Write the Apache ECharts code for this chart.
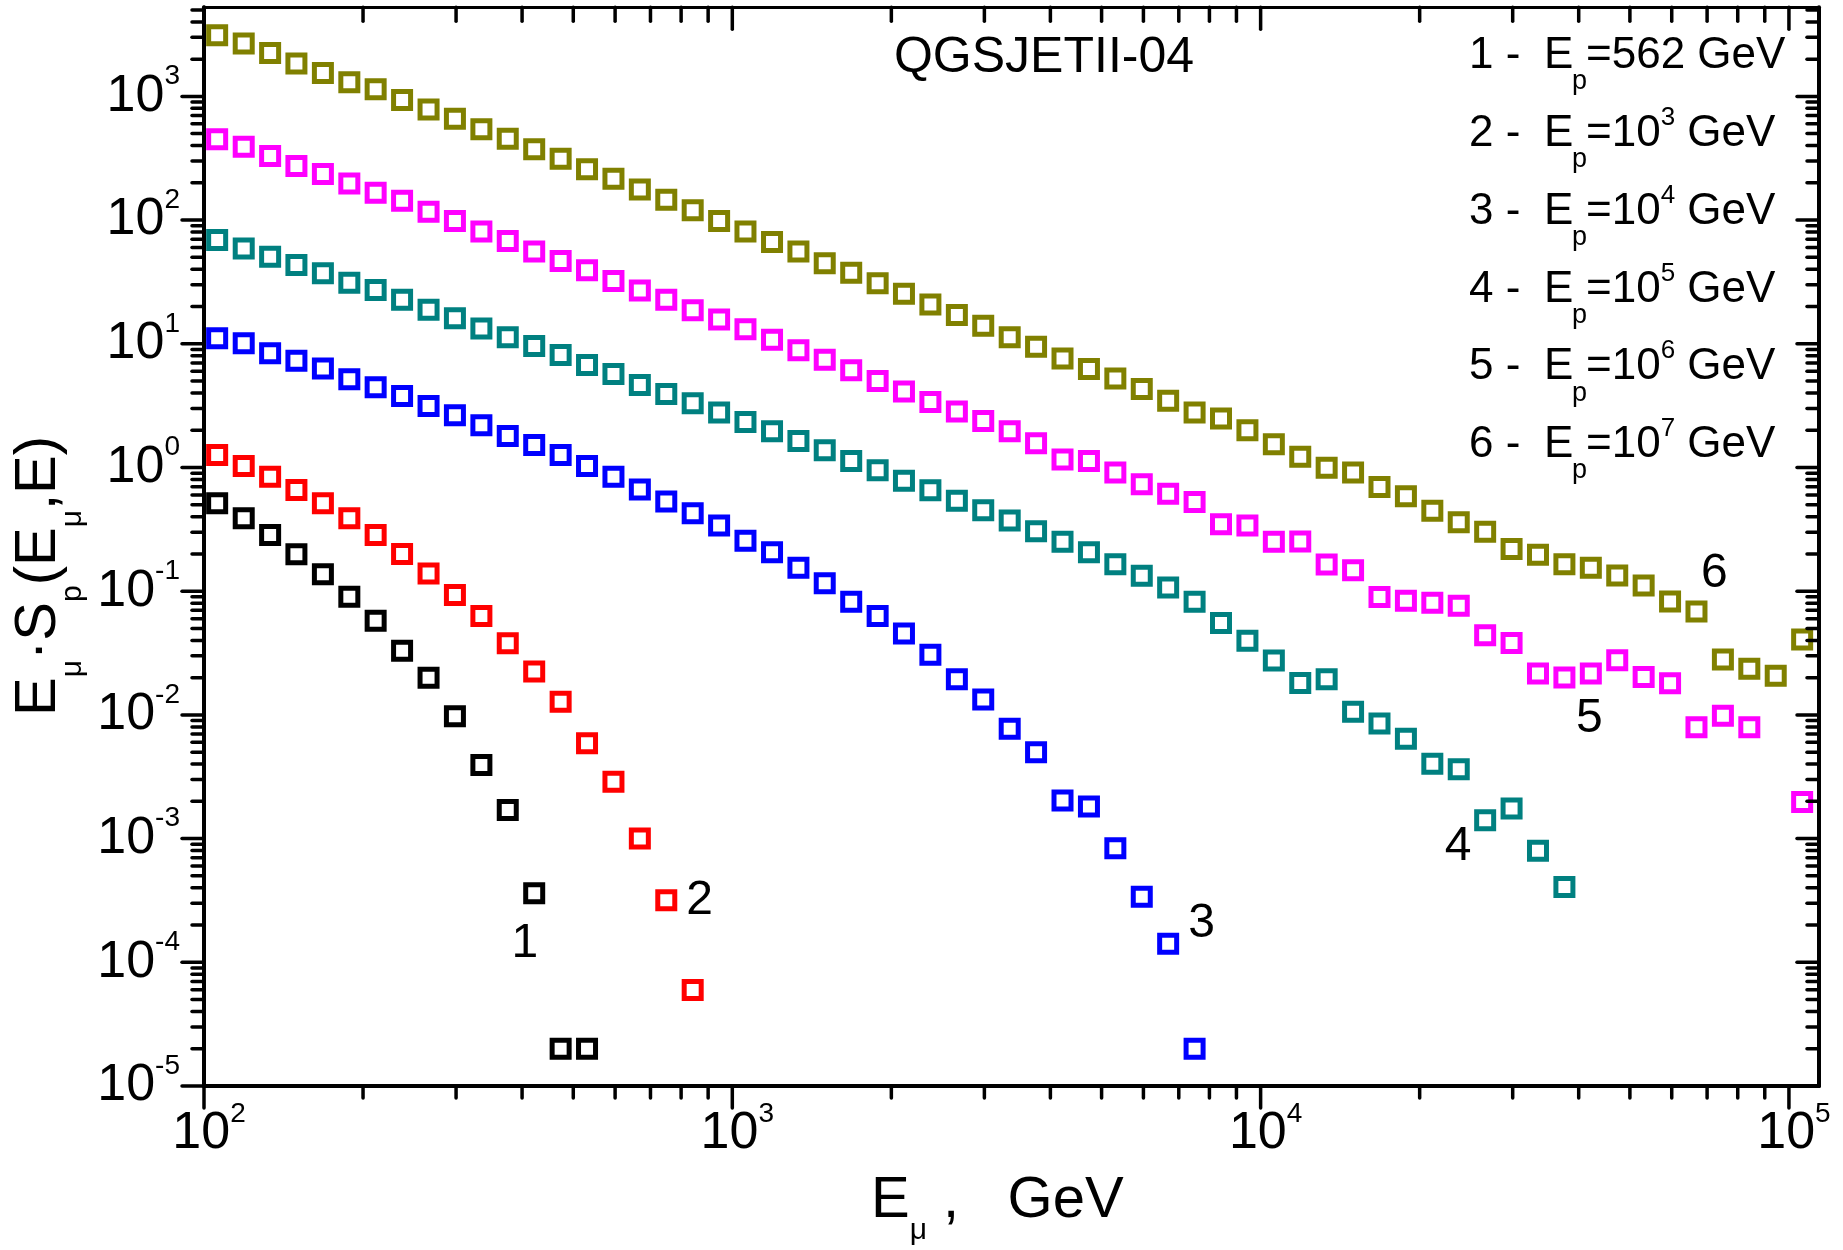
<!DOCTYPE html>
<html>
<head>
<meta charset="utf-8">
<script src="https://cdn.jsdelivr.net/npm/echarts@6/dist/echarts.min.js"></script>
<style>
  html, body { margin: 0; padding: 0; background: #ffffff; }
  #chart { width: 1843px; height: 1250px; }
</style>
</head>
<body>
<div id="chart"></div>
<script>
// Muon energy E_mu (GeV): bin centres, 20 bins per decade
const muonEnergy = [
  105.9, 118.9, 133.4, 149.6, 167.9, 188.4, 211.3, 237.1, 266.1, 298.5,
  335.0, 375.8, 421.7, 473.2, 530.9, 595.7, 668.3, 749.9, 841.4, 944.1,
  1059, 1189, 1334, 1496, 1679, 1884, 2113, 2371, 2661, 2985,
  3350, 3758, 4217, 4732, 5309, 5957, 6683, 7499, 8414, 9441,
  10593, 11885, 13335, 14962, 16788, 18837, 21135, 23714, 26607, 29854,
  33497, 37584, 42170, 47315, 53088, 59566, 66834, 74989, 84140, 94406,
  105925
];

// E_mu * S_p(E_mu, E) for each primary proton energy (null = empty bin)
const spectrumEp562 = [0.513, 0.388, 0.284, 0.199, 0.137, 0.0903, 0.0578, 0.0330, 0.0200, 0.00977,
  0.00394, 0.00170, 3.61e-4, 2.0e-5, 2.0e-5];
const spectrumEp1e3 = [1.26, 1.03, 0.843, 0.658, 0.513, 0.388, 0.284, 0.200, 0.139, 0.0931,
  0.0630, 0.0379, 0.0224, 0.0128, 0.00589, 0.00288, 0.00100, 3.18e-4, 5.96e-5];
const spectrumEp1e4 = [11.1, 10.1, 8.37, 7.29, 6.32, 5.16, 4.45, 3.78, 3.14, 2.65,
  2.20, 1.80, 1.52, 1.26, 1.03, 0.843, 0.665, 0.530, 0.426, 0.340,
  0.256, 0.206, 0.155, 0.116, 0.0820, 0.0631, 0.0454, 0.0306, 0.0194, 0.0133,
  0.00773, 0.00499, 0.00203, 0.00182, 8.34e-4, 3.39e-4, 1.41e-4, 2.0e-5];
const spectrumEp1e5 = [69.0, 59.0, 50.6, 43.3, 37.2, 31.2, 27.2, 22.7, 18.8, 16.1,
  13.3, 11.3, 9.59, 8.11, 6.74, 5.69, 4.65, 3.93, 3.30, 2.78,
  2.33, 1.96, 1.64, 1.38, 1.13, 0.951, 0.781, 0.656, 0.538, 0.452,
  0.372, 0.305, 0.251, 0.206, 0.165, 0.133, 0.107, 0.0820, 0.0553, 0.0398,
  0.0275, 0.0181, 0.0194, 0.0106, 0.00853, 0.00641, 0.00403, 0.00363, 0.00141, 0.00175,
  7.96e-4, 4.07e-4];
const spectrumEp1e6 = [450, 392, 330, 274, 236, 198, 166, 143, 117, 98.4,
  80.7, 67.8, 55.7, 46.8, 39.3, 32.2, 27.0, 22.7, 18.7, 15.7,
  13.1, 10.8, 8.85, 7.43, 6.11, 5.01, 4.12, 3.38, 2.84, 2.38,
  1.96, 1.57, 1.16, 1.13, 0.910, 0.731, 0.614, 0.527, 0.348, 0.340,
  0.251, 0.252, 0.164, 0.148, 0.0899, 0.0836, 0.0805, 0.0763, 0.0441, 0.0381,
  0.0216, 0.0201, 0.0216, 0.0277, 0.0202, 0.0180, 0.00794, 0.00984, 0.00794, null,
  0.00198];
const spectrumEp1e7 = [3120, 2670, 2240, 1845, 1549, 1300, 1140, 935, 785, 659,
  542, 455, 373, 313, 258, 216, 177, 146, 120, 98.4,
  80.7, 66.4, 55.7, 44.8, 37.6, 30.8, 25.4, 20.8, 17.1, 14.0,
  11.3, 9.46, 7.60, 6.24, 5.24, 4.31, 3.46, 2.78, 2.49, 2.00,
  1.54, 1.22, 0.993, 0.912, 0.695, 0.585, 0.447, 0.361, 0.302, 0.219,
  0.197, 0.165, 0.155, 0.134, 0.111, 0.0824, 0.0684, 0.0281, 0.0236, 0.0207,
  0.0407];

const curveSpectra = [spectrumEp562, spectrumEp1e3, spectrumEp1e4, spectrumEp1e5, spectrumEp1e6, spectrumEp1e7];
const curveColors = ['#000000', '#ff0000', '#0000ff', '#008080', '#ff00ff', '#808000'];

// Legend text: curve number and primary energy E_p
const legendIndex = ['1', '2', '3', '4', '5', '6'];
const energyBase = ['562', '10', '10', '10', '10', '10'];
const energyExp = ['', '3', '4', '5', '6', '7'];

// Curve number tags, placed in data coordinates (E_mu, value)
const curveTagText = ['1', '2', '3', '4', '5', '6'];
const curveTagAt = [[405, 1.4e-4], [867, 3.17e-4], [7730, 2.04e-4], [23640, 8.6e-4], [41900, 9.39e-3], [72240, 0.1377]];

// Axis ranges and decade ticks
const X_MIN = 100, X_MAX = 114000;
const Y_MIN = 1e-5, Y_MAX = 5250;
const xDecades = [100, 1000, 10000, 100000];
const yDecades = [1e-5, 1e-4, 1e-3, 1e-2, 1e-1, 1, 10, 100, 1000];
const minorSteps = [2, 3, 4, 5, 6, 7, 8, 9];

const SANS = '"Liberation Sans", Arial, sans-serif';
const NARROW = '"Liberation Sans Narrow", "Arial Narrow", "Liberation Sans", Arial, sans-serif';

function tickList(decades, lo, hi) {
  const out = [];
  decades.forEach(function (d) {
    if (d >= lo * 0.999999 && d <= hi) out.push([d, 1]);
    minorSteps.forEach(function (s) {
      const v = d * s;
      if (v > lo && v < hi) out.push([v, 0]);
    });
  });
  return out;
}

function powerLabel(v) {
  const l = Math.log10(v);
  const e = Math.round(l);
  if (Math.abs(l - e) > 1e-6) return '';
  return '{b|10}{s|' + e + '}';
}

const scatterSeries = curveSpectra.map(function (vals, i) {
  const pts = [];
  vals.forEach(function (v, k) { if (v !== null) pts.push([muonEnergy[k], v]); });
  return {
    type: 'scatter',
    name: legendIndex[i],
    data: pts,
    symbol: 'rect',
    symbolSize: 17,
    itemStyle: { color: 'rgba(0,0,0,0)', borderColor: curveColors[i], borderWidth: 5, opacity: 1 },
    z: 3
  };
});

const xTicks = tickList(xDecades, X_MIN, X_MAX).map(function (t) { return [t[0], Y_MIN, t[1]]; });
const yTicks = tickList(yDecades, Y_MIN, Y_MAX).map(function (t) { return [X_MIN, t[0], t[1]]; });

const xTickSeries = {
  type: 'custom',
  coordinateSystem: 'cartesian2d',
  clip: false, silent: true, z: 6,
  dimensions: ['x', 'y', 'major'],
  encode: { x: 0, y: 1 },
  data: xTicks,
  renderItem: function (params, api) {
    const cs = params.coordSys;
    const x = api.coord([api.value(0), Y_MIN])[0];
    const major = api.value(2) === 1;
    const bottom = cs.y + cs.height, top = cs.y;
    return {
      type: 'group',
      children: [
        { type: 'line', shape: { x1: x, y1: bottom, x2: x, y2: bottom + (major ? 22 : 12) },
          style: { stroke: '#000', lineWidth: 3.5, lineCap: 'round' } },
        { type: 'line', shape: { x1: x, y1: top, x2: x, y2: top + (major ? 22 : 14) },
          style: { stroke: '#000', lineWidth: 3.5, lineCap: 'round' } }
      ]
    };
  }
};

const yTickSeries = {
  type: 'custom',
  coordinateSystem: 'cartesian2d',
  clip: false, silent: true, z: 6,
  dimensions: ['x', 'y', 'major'],
  encode: { x: 0, y: 1 },
  data: yTicks,
  renderItem: function (params, api) {
    const cs = params.coordSys;
    const y = api.coord([X_MIN, api.value(1)])[1];
    const major = api.value(2) === 1;
    const left = cs.x, right = cs.x + cs.width;
    return {
      type: 'group',
      children: [
        { type: 'line', shape: { x1: left, y1: y, x2: left - (major ? 22 : 12), y2: y },
          style: { stroke: '#000', lineWidth: 3.5, lineCap: 'round' } },
        { type: 'line', shape: { x1: right, y1: y, x2: right - (major ? 22 : 12), y2: y },
          style: { stroke: '#000', lineWidth: 3.5, lineCap: 'round' } }
      ]
    };
  }
};

const curveTagSeries = {
  type: 'custom',
  coordinateSystem: 'cartesian2d',
  clip: false, silent: true, z: 7,
  data: curveTagAt,
  renderItem: function (params, api) {
    const p = api.coord([api.value(0), api.value(1)]);
    return {
      type: 'text', x: p[0], y: p[1],
      style: { text: curveTagText[params.dataIndex], fontSize: 48, fontFamily: SANS, fill: '#000',
               align: 'center', verticalAlign: 'middle' }
    };
  }
};

// Legend block (upper right) and annotations
const graphics = [];
graphics.push({
  type: 'text', x: 1044, y: 58,
  style: { text: 'QGSJETII-04', fontSize: 50, fontFamily: SANS, fill: '#000', align: 'center', verticalAlign: 'middle' }
});
legendIndex.forEach(function (idx, i) {
  const yc = 56 + 77.8 * i;
  graphics.push({ type: 'text', x: 1469, y: yc,
    style: { text: idx + ' -', fontSize: 44, fontFamily: SANS, fill: '#000', align: 'left', verticalAlign: 'middle' } });
  graphics.push({ type: 'text', x: 1544, y: yc,
    style: { text: 'E', fontSize: 44, fontFamily: SANS, fill: '#000', align: 'left', verticalAlign: 'middle' } });
  graphics.push({ type: 'text', x: 1572, y: yc + 26,
    style: { text: 'p', fontSize: 27, fontFamily: SANS, fill: '#000', align: 'left', verticalAlign: 'middle' } });
  const txt = energyExp[i]
    ? '{n|=' + energyBase[i] + '}{s|' + energyExp[i] + '}{n| GeV}'
    : '{n|=' + energyBase[i] + ' GeV}';
  graphics.push({ type: 'text', x: 1586, y: yc,
    style: { text: txt, fill: '#000', align: 'left', verticalAlign: 'middle',
      rich: {
        n: { fontSize: 44, lineHeight: 58, fontFamily: SANS, fill: '#000' },
        s: { fontSize: 26, lineHeight: 26, fontFamily: SANS, fill: '#000', verticalAlign: 'top' }
      } } });
});
// Axis titles
graphics.push({
  type: 'text', x: 871, y: 1201,
  style: { text: '{t|E}{u|\u03bc}{t| ,   GeV}', fill: '#000', align: 'left', verticalAlign: 'middle',
    rich: {
      t: { fontSize: 58, lineHeight: 90, fontFamily: SANS, fill: '#000' },
      u: { fontSize: 30, lineHeight: 30, fontFamily: SANS, fill: '#000', verticalAlign: 'bottom' }
    } }
});
graphics.push({
  type: 'text', x: 39, y: 576, rotation: Math.PI / 2,
  style: { text: '{t|E}{u|\u03bc}{t|\u00b7S}{u|p}{t|(E}{u|\u03bc}{t|,E)}', fill: '#000', align: 'center', verticalAlign: 'middle',
    rich: {
      t: { fontSize: 58, lineHeight: 98, fontFamily: SANS, fill: '#000' },
      u: { fontSize: 30, lineHeight: 30, fontFamily: SANS, fill: '#000', verticalAlign: 'bottom' }
    } }
});

const chart = echarts.init(document.getElementById('chart'), null, { renderer: 'canvas' });
chart.setOption({
  animation: false,
  backgroundColor: '#ffffff',
  grid: { left: 204, top: 7.3, width: 1615, height: 1078.7, containLabel: false, outerBoundsMode: 'none' },
  xAxis: [
    {
      type: 'log', logBase: 10, min: X_MIN, max: X_MAX, position: 'bottom',
      axisLine: { show: true, lineStyle: { color: '#000', width: 4 } },
      axisTick: { show: false }, splitLine: { show: false }, minorTick: { show: false },
      axisLabel: {
        show: true, margin: 14, formatter: powerLabel,
        rich: {
          b: { fontSize: 52, lineHeight: 68, fontFamily: NARROW, color: '#000', padding: [0, 0, 0, 10] },
          s: { fontSize: 28, lineHeight: 28, fontFamily: NARROW, color: '#000', verticalAlign: 'top' }
        }
      }
    },
    {
      type: 'log', logBase: 10, min: X_MIN, max: X_MAX, position: 'top',
      axisLine: { show: true, lineStyle: { color: '#000', width: 3 } },
      axisTick: { show: false }, axisLabel: { show: false }, splitLine: { show: false }
    }
  ],
  yAxis: [
    {
      type: 'log', logBase: 10, min: Y_MIN, max: Y_MAX, position: 'left', splitNumber: 10,
      axisLine: { show: true, lineStyle: { color: '#000', width: 4 } },
      axisTick: { show: false }, splitLine: { show: false }, minorTick: { show: false },
      axisLabel: {
        show: true, margin: 24, formatter: powerLabel,
        rich: {
          b: { fontSize: 52, lineHeight: 68, fontFamily: NARROW, color: '#000' },
          s: { fontSize: 28, lineHeight: 28, fontFamily: NARROW, color: '#000', verticalAlign: 'top' }
        }
      }
    },
    {
      type: 'log', logBase: 10, min: Y_MIN, max: Y_MAX, position: 'right', splitNumber: 10,
      axisLine: { show: true, lineStyle: { color: '#000', width: 4 } },
      axisTick: { show: false }, axisLabel: { show: false }, splitLine: { show: false }
    }
  ],
  series: scatterSeries.concat([xTickSeries, yTickSeries, curveTagSeries]),
  graphic: graphics
});
</script>
</body>
</html>
